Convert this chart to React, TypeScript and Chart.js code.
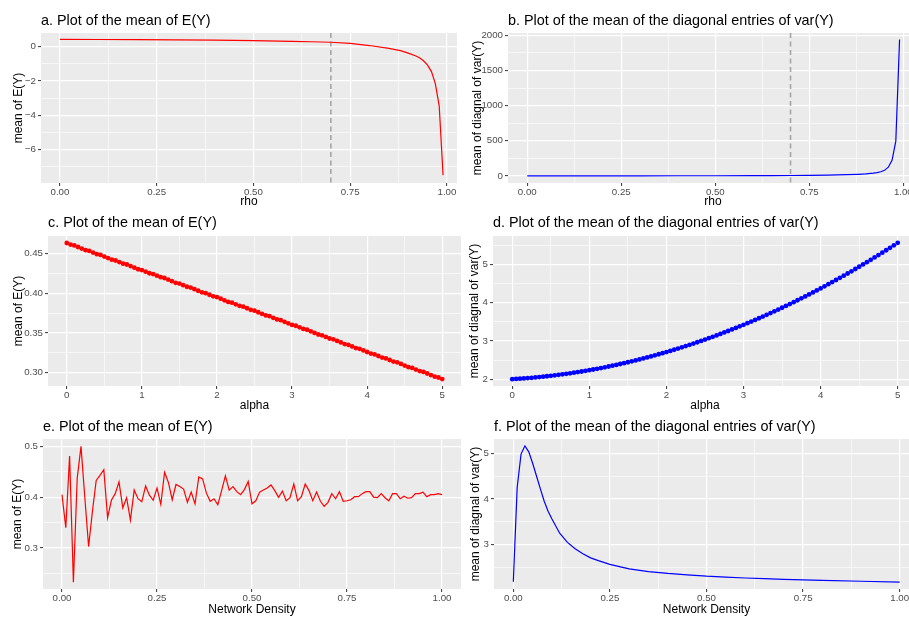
import React, { useEffect, useRef } from 'react';
import { Chart, registerables } from 'chart.js';

Chart.register(...registerables);
Chart.defaults.font.family = '"Liberation Sans", Arial, Helvetica, sans-serif';

// ---------- data ----------
const rho = [0, 0.1, 0.2, 0.3, 0.4, 0.5, 0.6, 0.65, 0.7, 0.75, 0.8, 0.85, 0.88, 0.9, 0.92, 0.93, 0.94, 0.95, 0.96, 0.97, 0.98, 0.99];
const meanEYRho = [0.43, 0.42, 0.41, 0.40, 0.38, 0.35, 0.31, 0.29, 0.26, 0.19, 0.07, -0.1, -0.23, -0.37, -0.54, -0.66, -0.83, -1.07, -1.45, -2.15, -3.45, -7.48];
const varYRho = [2.0, 2.1, 2.3, 2.5, 2.9, 3.4, 4.4, 5.2, 6.5, 8.5, 12, 18, 24, 30, 40, 48, 60, 80, 125, 223, 495, 1940];
const RHO_MARK = 0.7;

const alpha = [0, 0.05, 0.1, 0.15, 0.2, 0.25, 0.3, 0.35, 0.4, 0.45, 0.5, 0.55, 0.6, 0.65, 0.7, 0.75, 0.8, 0.85, 0.9, 0.95, 1, 1.05, 1.1, 1.15, 1.2, 1.25, 1.3, 1.35, 1.4, 1.45, 1.5, 1.55, 1.6, 1.65, 1.7, 1.75, 1.8, 1.85, 1.9, 1.95, 2, 2.05, 2.1, 2.15, 2.2, 2.25, 2.3, 2.35, 2.4, 2.45, 2.5, 2.55, 2.6, 2.65, 2.7, 2.75, 2.8, 2.85, 2.9, 2.95, 3, 3.05, 3.1, 3.15, 3.2, 3.25, 3.3, 3.35, 3.4, 3.45, 3.5, 3.55, 3.6, 3.65, 3.7, 3.75, 3.8, 3.85, 3.9, 3.95, 4, 4.05, 4.1, 4.15, 4.2, 4.25, 4.3, 4.35, 4.4, 4.45, 4.5, 4.55, 4.6, 4.65, 4.7, 4.75, 4.8, 4.85, 4.9, 4.95, 5];
const meanEYAlpha = [
  0.463, 0.461, 0.460, 0.458, 0.456, 0.454, 0.453, 0.451, 0.449, 0.448,
  0.446, 0.444, 0.442, 0.441, 0.439, 0.437, 0.436, 0.434, 0.432, 0.430,
  0.429, 0.427, 0.425, 0.424, 0.422, 0.420, 0.419, 0.417, 0.415, 0.413,
  0.412, 0.410, 0.408, 0.407, 0.405, 0.403, 0.401, 0.400, 0.398, 0.396,
  0.395, 0.393, 0.391, 0.389, 0.388, 0.386, 0.384, 0.383, 0.381, 0.379,
  0.378, 0.376, 0.374, 0.372, 0.371, 0.369, 0.367, 0.366, 0.364, 0.362,
  0.360, 0.359, 0.357, 0.355, 0.354, 0.352, 0.350, 0.348, 0.347, 0.345,
  0.343, 0.342, 0.340, 0.338, 0.336, 0.335, 0.333, 0.331, 0.330, 0.328,
  0.326, 0.324, 0.323, 0.321, 0.319, 0.318, 0.316, 0.314, 0.313, 0.311,
  0.309, 0.307, 0.306, 0.304, 0.302, 0.301, 0.299, 0.297, 0.295, 0.294,
  0.292];
const varYAlpha = [
  2.000, 2.006, 2.013, 2.020, 2.028, 2.036, 2.045, 2.055, 2.065, 2.076,
  2.088, 2.100, 2.113, 2.126, 2.140, 2.154, 2.169, 2.185, 2.201, 2.218,
  2.235, 2.253, 2.272, 2.291, 2.311, 2.332, 2.353, 2.374, 2.397, 2.419,
  2.443, 2.467, 2.492, 2.517, 2.543, 2.569, 2.596, 2.624, 2.652, 2.681,
  2.710, 2.740, 2.771, 2.802, 2.834, 2.866, 2.899, 2.933, 2.967, 3.002,
  3.037, 3.073, 3.110, 3.147, 3.185, 3.223, 3.262, 3.302, 3.342, 3.383,
  3.424, 3.466, 3.509, 3.552, 3.596, 3.640, 3.685, 3.731, 3.777, 3.824,
  3.871, 3.919, 3.968, 4.017, 4.067, 4.117, 4.168, 4.220, 4.272, 4.325,
  4.378, 4.432, 4.487, 4.542, 4.597, 4.654, 4.711, 4.768, 4.826, 4.885,
  4.945, 5.005, 5.065, 5.126, 5.188, 5.250, 5.313, 5.377, 5.441, 5.506,
  5.571];

const density = [0, 0.01, 0.02, 0.03, 0.04, 0.05, 0.06, 0.07, 0.08, 0.09, 0.1, 0.11, 0.12, 0.13, 0.14, 0.15, 0.16, 0.17, 0.18, 0.19, 0.2, 0.21, 0.22, 0.23, 0.24, 0.25, 0.26, 0.27, 0.28, 0.29, 0.3, 0.31, 0.32, 0.33, 0.34, 0.35, 0.36, 0.37, 0.38, 0.39, 0.4, 0.41, 0.42, 0.43, 0.44, 0.45, 0.46, 0.47, 0.48, 0.49, 0.5, 0.51, 0.52, 0.53, 0.54, 0.55, 0.56, 0.57, 0.58, 0.59, 0.6, 0.61, 0.62, 0.63, 0.64, 0.65, 0.66, 0.67, 0.68, 0.69, 0.7, 0.71, 0.72, 0.73, 0.74, 0.75, 0.76, 0.77, 0.78, 0.79, 0.8, 0.81, 0.82, 0.83, 0.84, 0.85, 0.86, 0.87, 0.88, 0.89, 0.9, 0.91, 0.92, 0.93, 0.94, 0.95, 0.96, 0.97, 0.98, 0.99, 1];
const meanEYDensity = [
  0.405, 0.340, 0.481, 0.233, 0.437, 0.500, 0.400, 0.303, 0.372, 0.433,
  0.443, 0.454, 0.360, 0.394, 0.407, 0.430, 0.379, 0.399, 0.355, 0.414,
  0.397, 0.391, 0.422, 0.404, 0.394, 0.418, 0.386, 0.449, 0.429, 0.395,
  0.425, 0.421, 0.416, 0.390, 0.410, 0.387, 0.440, 0.436, 0.408, 0.392,
  0.397, 0.385, 0.413, 0.442, 0.414, 0.421, 0.411, 0.405, 0.415, 0.431,
  0.387, 0.393, 0.410, 0.414, 0.418, 0.424, 0.413, 0.400, 0.412, 0.393,
  0.399, 0.426, 0.393, 0.401, 0.426, 0.413, 0.393, 0.410, 0.392, 0.382,
  0.390, 0.407, 0.397, 0.411, 0.392, 0.393, 0.395, 0.401, 0.401, 0.407,
  0.411, 0.411, 0.400, 0.399, 0.407, 0.399, 0.393, 0.407, 0.407, 0.397,
  0.402, 0.398, 0.399, 0.407, 0.407, 0.410, 0.401, 0.405, 0.405, 0.407,
  0.405];

const densityF = [0, 0.01, 0.02, 0.03, 0.04, 0.05, 0.06, 0.07, 0.08, 0.09, 0.1, 0.12, 0.14, 0.16, 0.18, 0.2, 0.22, 0.25, 0.28, 0.3, 0.35, 0.4, 0.45, 0.5, 0.55, 0.6, 0.65, 0.7, 0.75, 0.8, 0.9, 1];
const varYDensity = [2.19, 4.25, 4.98, 5.16, 5.03, 4.78, 4.5, 4.22, 3.95, 3.73, 3.56, 3.25, 3.05, 2.91, 2.8, 2.71, 2.65, 2.57, 2.51, 2.47, 2.41, 2.37, 2.34, 2.31, 2.29, 2.27, 2.255, 2.24, 2.23, 2.22, 2.2, 2.18];

// ---------- tick values / labels ----------
const unitTicks = [0, 0.25, 0.5, 0.75, 1];
const unitTickLabels = ['0.00', '0.25', '0.50', '0.75', '1.00'];
const unitMinor = [0.125, 0.375, 0.625, 0.875];

const alphaTicks = [0, 1, 2, 3, 4, 5];
const alphaTickLabels = ['0', '1', '2', '3', '4', '5'];
const alphaMinor = [0.5, 1.5, 2.5, 3.5, 4.5];

const aYTicks = [-6, -4, -2, 0];
const aYTickLabels = ['\u22126', '\u22124', '\u22122', '0'];
const aYMinor = [-7, -5, -3, -1];

const bYTicks = [0, 500, 1000, 1500, 2000];
const bYTickLabels = ['0', '500', '1000', '1500', '2000'];
const bYMinor = [250, 750, 1250, 1750];

const cYTicks = [0.3, 0.35, 0.4, 0.45];
const cYTickLabels = ['0.30', '0.35', '0.40', '0.45'];
const cYMinor = [0.325, 0.375, 0.425];

const dYTicks = [2, 3, 4, 5];
const dYTickLabels = ['2', '3', '4', '5'];
const dYMinor = [2.5, 3.5, 4.5, 5.5];

const eYTicks = [0.3, 0.4, 0.5];
const eYTickLabels = ['0.3', '0.4', '0.5'];
const eYMinor = [0.25, 0.35, 0.45];

const fYTicks = [3, 4, 5];
const fYTickLabels = ['3', '4', '5'];
const fYMinor = [2.5, 3.5, 4.5];

const RED = '#FF0000';
const BLUE = '#0000FF';

type Panel = {
  box: [number, number, number, number];
  pad: { left: number; top: number; right: number; bottom: number };
  yW: number;
  xH: number;
  title: string;
  titleOff: number;
  xTitle: string;
  yTitle: string;
  xTitlePad: number;
  yTitlePad: number;
  xs: number[];
  ys: number[];
  color: string;
  points: boolean;
  xRange: [number, number];
  yRange: [number, number];
  xMajor: number[];
  xLabels: string[];
  xMinor: number[];
  yMajor: number[];
  yLabels: string[];
  yMinor: number[];
  vline?: number;
};

const PANELS: Panel[] = [
  {
    box: [0, 0, 470, 215], pad: { left: 0, top: 33, right: 13, bottom: 0 }, yW: 41, xH: 32,
    title: 'a. Plot of the mean of E(Y)', titleOff: 12,
    xTitle: 'rho', yTitle: 'mean of E(Y)', xTitlePad: 7.3, yTitlePad: 12.3,
    xs: rho, ys: meanEYRho, color: RED, points: false,
    xRange: [-0.049, 1.026], yRange: [-7.94, 0.8],
    xMajor: unitTicks, xLabels: unitTickLabels, xMinor: unitMinor,
    yMajor: aYTicks, yLabels: aYTickLabels, yMinor: aYMinor, vline: RHO_MARK,
  },
  {
    box: [461, 0, 470, 215], pad: { left: 0, top: 33, right: 13, bottom: 0 }, yW: 47, xH: 32,
    title: 'b. Plot of the mean of the diagonal entries of var(Y)', titleOff: 12,
    xTitle: 'rho', yTitle: 'mean of diagnal of var(Y)', xTitlePad: 7.3, yTitlePad: 10.7,
    xs: rho, ys: varYRho, color: BLUE, points: false,
    xRange: [-0.0513, 1.039], yRange: [-100, 2032],
    xMajor: unitTicks, xLabels: unitTickLabels, xMinor: unitMinor,
    yMajor: bYTicks, yLabels: bYTickLabels, yMinor: bYMinor, vline: RHO_MARK,
  },
  {
    box: [0, 207, 470, 210], pad: { left: 0, top: 29, right: 9, bottom: 0 }, yW: 48, xH: 31,
    title: 'c. Plot of the mean of E(Y)', titleOff: 13,
    xTitle: 'alpha', yTitle: 'mean of E(Y)', xTitlePad: 5, yTitlePad: 12.3,
    xs: alpha, ys: meanEYAlpha, color: RED, points: true,
    xRange: [-0.25, 5.25], yRange: [0.2833, 0.4718],
    xMajor: alphaTicks, xLabels: alphaTickLabels, xMinor: alphaMinor,
    yMajor: cYTicks, yLabels: cYTickLabels, yMinor: cYMinor,
  },
  {
    box: [461, 207, 470, 210], pad: { left: 0, top: 29, right: 14, bottom: 0 }, yW: 32, xH: 31,
    title: 'd. Plot of the mean of the diagonal entries of var(Y)', titleOff: 13,
    xTitle: 'alpha', yTitle: 'mean of diagnal of var(Y)', xTitlePad: 5, yTitlePad: 8,
    xs: alpha, ys: varYAlpha, color: BLUE, points: true,
    xRange: [-0.25, 5.25], yRange: [1.821, 5.75],
    xMajor: alphaTicks, xLabels: alphaTickLabels, xMinor: alphaMinor,
    yMajor: dYTicks, yLabels: dYTickLabels, yMinor: dYMinor,
  },
  {
    box: [0, 410, 470, 207], pad: { left: 0, top: 29, right: 9, bottom: 0 }, yW: 43, xH: 28,
    title: 'e. Plot of the mean of E(Y)', titleOff: 12,
    xTitle: 'Network Density', yTitle: 'mean of E(Y)', xTitlePad: 1.7, yTitlePad: 11.7,
    xs: density, ys: meanEYDensity, color: RED, points: false,
    xRange: [-0.05, 1.05], yRange: [0.2196, 0.5144],
    xMajor: unitTicks, xLabels: unitTickLabels, xMinor: unitMinor,
    yMajor: eYTicks, yLabels: eYTickLabels, yMinor: eYMinor,
  },
  {
    box: [461, 410, 470, 207], pad: { left: 0, top: 29, right: 12, bottom: 0 }, yW: 33, xH: 28,
    title: 'f. Plot of the mean of the diagonal entries of var(Y)', titleOff: 12,
    xTitle: 'Network Density', yTitle: 'mean of diagnal of var(Y)', xTitlePad: 1.7, yTitlePad: 8.7,
    xs: densityF, ys: varYDensity, color: BLUE, points: false,
    xRange: [-0.05, 1.05], yRange: [2.03, 5.31],
    xMajor: unitTicks, xLabels: unitTickLabels, xMinor: unitMinor,
    yMajor: fYTicks, yLabels: fYTickLabels, yMinor: fYMinor,
  },
];

// ---------- plugins ----------
const panelBg = {
  id: 'panelBg',
  beforeDraw(chart: any) {
    const { ctx, chartArea } = chart;
    ctx.save();
    ctx.fillStyle = '#EBEBEB';
    ctx.fillRect(chartArea.left, chartArea.top, chartArea.right - chartArea.left, chartArea.bottom - chartArea.top);
    ctx.restore();
  },
};

const panelTitle = {
  id: 'panelTitle',
  afterDraw(chart: any, _args: any, opts: any) {
    const { ctx, chartArea } = chart;
    ctx.save();
    ctx.font = '14.4px "Liberation Sans", Arial, Helvetica, sans-serif';
    ctx.fillStyle = '#000000';
    ctx.textAlign = 'left';
    ctx.textBaseline = 'middle';
    ctx.fillText(opts.text, chartArea.left, chartArea.top - opts.offset);
    ctx.restore();
  },
};

const vLine = {
  id: 'vLine',
  beforeDatasetsDraw(chart: any, _args: any, opts: any) {
    if (opts.value === undefined || opts.value === null) return;
    const { ctx, chartArea } = chart;
    const x = chart.scales.x.getPixelForValue(opts.value);
    ctx.save();
    ctx.strokeStyle = '#A6A6A6';
    ctx.lineWidth = 1.6;
    ctx.setLineDash([5, 3.5]);
    ctx.beginPath();
    ctx.moveTo(x, chartArea.top);
    ctx.lineTo(x, chartArea.bottom);
    ctx.stroke();
    ctx.restore();
  },
};

function axisOptions(
  horizontal: boolean,
  major: number[], labels: string[], minor: number[],
  range: [number, number], titleText: string, titlePad: number, fixedSize: number,
) {
  const all = [...major, ...minor].sort((a, b) => a - b);
  const isMajor = (c: any) => !!(c && c.tick && major.indexOf(c.tick.value) >= 0);
  return {
    type: 'linear',
    position: horizontal ? 'bottom' : 'left',
    min: range[0],
    max: range[1],
    bounds: 'data',
    afterBuildTicks: (s: any) => { s.ticks = all.map((v) => ({ value: v })); },
    afterFit: (s: any) => { if (horizontal) s.height = fixedSize; else s.width = fixedSize; },
    ticks: {
      autoSkip: false,
      maxRotation: 0,
      minRotation: 0,
      padding: horizontal ? 1 : 2,
      color: '#4D4D4D',
      font: { size: 9.7 },
      callback: (v: number) => { const i = major.indexOf(v); return i >= 0 ? labels[i] : ''; },
    },
    grid: {
      color: '#FFFFFF',
      lineWidth: (c: any) => (isMajor(c) ? 1.2 : 0.6),
      tickColor: (c: any) => (isMajor(c) ? '#333333' : 'rgba(0,0,0,0)'),
      tickLength: 3,
      tickWidth: 1,
      drawOnChartArea: true,
    },
    border: { display: false },
    title: {
      display: true,
      text: titleText,
      color: '#000000',
      font: { size: 12, lineHeight: 1 },
      padding: horizontal ? { top: 0, bottom: titlePad } : { top: titlePad, bottom: 0 },
    },
  };
}

function PanelChart({ p }: { p: Panel }) {
  const ref = useRef<HTMLCanvasElement>(null);
  useEffect(() => {
    if (!ref.current) return;
    const data = p.xs.map((x, i) => ({ x, y: p.ys[i] }));
    const chart = new Chart(ref.current, {
      type: 'scatter',
      data: {
        datasets: [
          {
            data,
            showLine: !p.points,
            borderColor: p.color,
            backgroundColor: p.color,
            borderWidth: 1.2,
            pointRadius: p.points ? 2.4 : 0,
            pointHoverRadius: 0,
            pointBorderWidth: 0,
            pointBackgroundColor: p.color,
            tension: 0,
          } as any,
        ],
      },
      options: {
        responsive: false,
        animation: false,
        devicePixelRatio: 1,
        layout: { padding: p.pad },
        events: [],
        plugins: {
          legend: { display: false },
          tooltip: { enabled: false },
          title: { display: false },
          panelTitle: { text: p.title, offset: p.titleOff },
          vLine: { value: p.vline },
        } as any,
        scales: {
          x: axisOptions(true, p.xMajor, p.xLabels, p.xMinor, p.xRange, p.xTitle, p.xTitlePad, p.xH) as any,
          y: axisOptions(false, p.yMajor, p.yLabels, p.yMinor, p.yRange, p.yTitle, p.yTitlePad, p.yW) as any,
        },
      },
      plugins: [panelBg, vLine, panelTitle],
    });
    return () => chart.destroy();
  }, [p]);
  const [l, t, w, h] = p.box;
  return (
    <canvas
      ref={ref}
      width={w}
      height={h}
      style={{ position: 'absolute', left: l, top: t, width: w, height: h }}
    />
  );
}

export default function App() {
  return (
    <div
      style={{
        position: 'fixed', left: 0, top: 0, width: 909, height: 617,
        overflow: 'hidden', background: '#FFFFFF',
      }}
    >
      {PANELS.map((p, i) => <PanelChart key={i} p={p} />)}
    </div>
  );
}
